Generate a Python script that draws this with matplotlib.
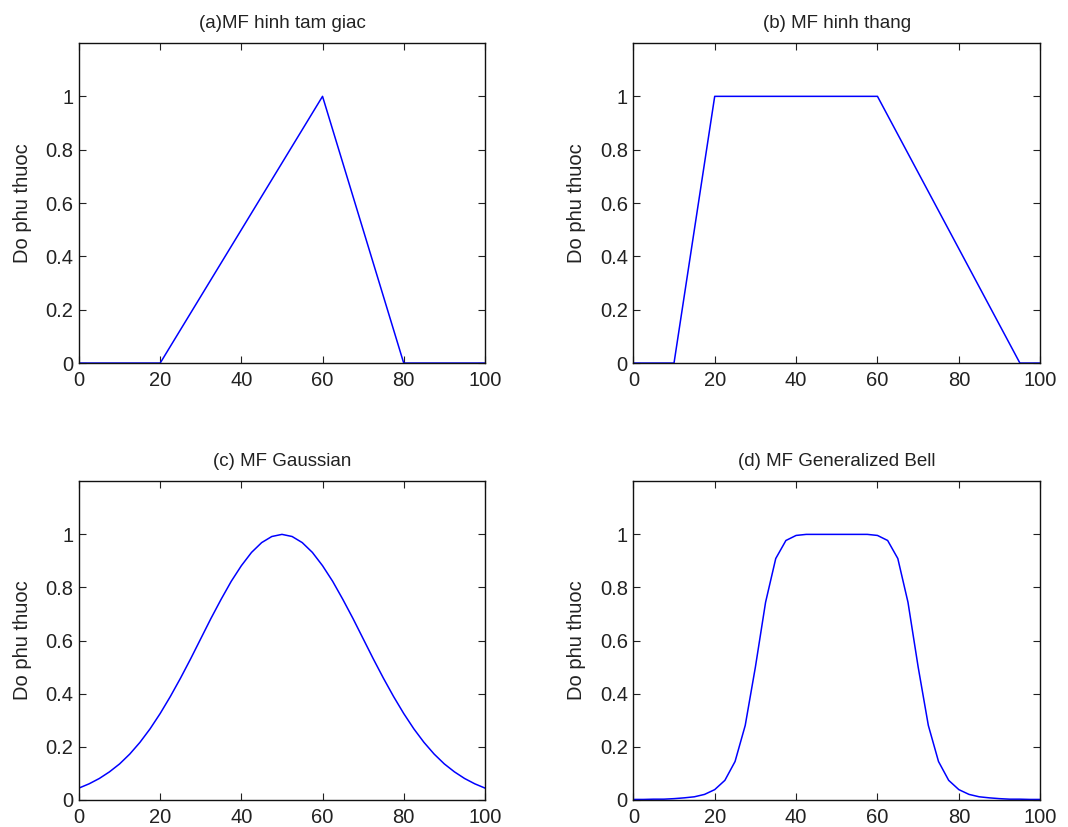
"""Four membership function shapes (triangle, trapezoid, gaussian, bell)."""
import matplotlib
matplotlib.use("Agg")
import matplotlib.pyplot as plt

plt.rcParams["font.family"] = ["Liberation Sans", "DejaVu Sans"]

# (a) triangle MF vertices
tri_x = [0, 20, 60, 80, 100]
tri_y = [0, 0, 1, 0, 0]

# (b) trapezoid MF vertices
trap_x = [0, 10, 20, 60, 95, 100]
trap_y = [0, 0, 1, 1, 0, 0]

# (c) gaussian MF, read every 2.5 units
gauss_x = [i * 2.5 for i in range(41)]
gauss_y = [0.044, 0.060, 0.080, 0.105, 0.135, 0.172, 0.216, 0.267, 0.325, 0.389, 0.458,
           0.531, 0.607, 0.683, 0.755, 0.823, 0.882, 0.932, 0.969, 0.992, 1.000,
           0.992, 0.969, 0.932, 0.882, 0.823, 0.755, 0.683, 0.607, 0.531, 0.458,
           0.389, 0.325, 0.267, 0.216, 0.172, 0.135, 0.105, 0.080, 0.060, 0.044]

# (d) generalized bell MF, read every 2.5 units
bell_x = [i * 2.5 for i in range(41)]
bell_y = [0.001, 0.001, 0.002, 0.002, 0.004, 0.007, 0.011, 0.020, 0.038, 0.073, 0.144,
          0.280, 0.500, 0.744, 0.909, 0.977, 0.996, 1.0, 1.0, 1.0, 1.0,
          1.0, 1.0, 1.0, 0.996, 0.977, 0.909, 0.744, 0.500, 0.280, 0.144,
          0.073, 0.038, 0.020, 0.011, 0.007, 0.004, 0.002, 0.002, 0.001, 0.001]

panels = [
    ("(a)MF hinh tam giac", tri_x, tri_y),
    ("(b) MF hinh thang", trap_x, trap_y),
    ("(c) MF Gaussian", gauss_x, gauss_y),
    ("(d) MF Generalized Bell", bell_x, bell_y),
]

positions = [
    [0.074, 0.561, 0.380, 0.387],
    [0.593, 0.561, 0.381, 0.387],
    [0.074, 0.033, 0.380, 0.385],
    [0.593, 0.033, 0.381, 0.385],
]

fig = plt.figure(figsize=(10.68, 8.27), dpi=100)
for (title, xs, ys), pos in zip(panels, positions):
    ax = fig.add_axes(pos)
    ax.plot(xs, ys, color="#0000ff", lw=1.1)
    ax.set_xlim(0, 100)
    ax.set_ylim(0, 1.2)
    ax.set_xticks([0, 20, 40, 60, 80, 100])
    ax.set_yticks([0, 0.2, 0.4, 0.6, 0.8, 1])
    ax.set_yticklabels(["0", "0.2", "0.4", "0.6", "0.8", "1"])
    ax.tick_params(direction="in", length=5, top=True, right=True,
                   labelsize=14.5, colors="#222222")
    ax.tick_params(axis="x", pad=6)
    ax.tick_params(axis="y", pad=4)
    for sp in ax.spines.values():
        sp.set_linewidth(1.0)
        sp.set_color("#111111")
    ax.set_title(title, fontsize=13.5, pad=11, color="#222222")
    ax.set_ylabel("Do phu thuoc", fontsize=14.5, labelpad=10, color="#222222")

fig.savefig("out.png", dpi=100)
